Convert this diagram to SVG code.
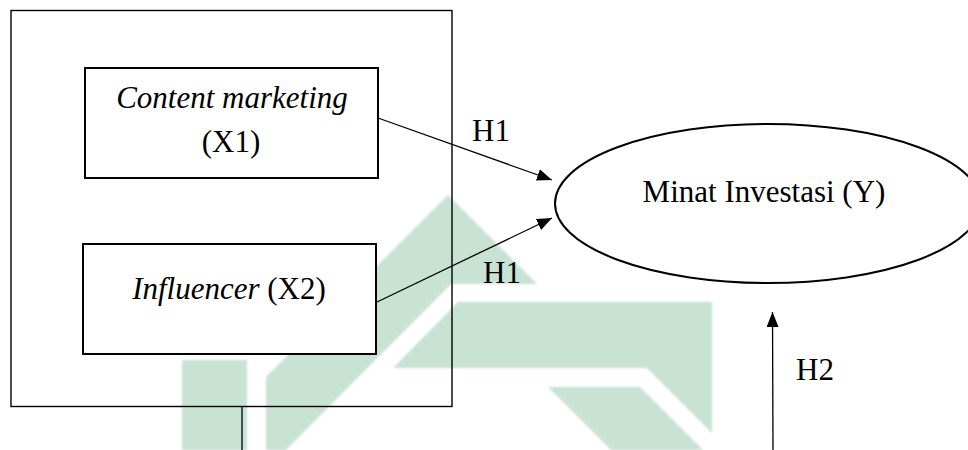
<svg xmlns="http://www.w3.org/2000/svg" width="968" height="450" viewBox="0 0 968 450">
  <style>
    .lbl { font-family: "Liberation Serif", "Times New Roman", serif; font-size: 31px; fill: #000; }
    .it { font-style: italic; }
    .frame { fill: none; stroke: #000; stroke-width: 1.4; }
    .box { fill: #fff; stroke: #000; stroke-width: 2; }
    .conn { fill: none; stroke: #000; stroke-width: 1.3; }
    .mark { fill: #c8e2d3; }
  </style>
  <defs>
    <marker id="arrow" markerUnits="userSpaceOnUse" markerWidth="16" markerHeight="13" refX="15" refY="6" orient="auto">
      <path d="M0,0 L15,6 L0,12 z" fill="#000"/>
    </marker>
    <filter id="soft" x="-5%" y="-5%" width="110%" height="110%">
      <feGaussianBlur stdDeviation="1.2"/>
    </filter>
  </defs>
  <rect width="968" height="450" fill="#fff"/>

  <!-- background emblem -->
  <g id="emblem" class="mark" filter="url(#soft)">
    <rect x="182" y="360" width="65" height="90"/>
    <polygon points="266,450 266,377 448,195 537,284 451,284 286,450"/>
    <polygon points="458,302 712,302 712,433 647,368 393,368"/>
    <polygon points="548,387 640,387 703,450 611,450"/>
  </g>

  <!-- grouping frame around the independent variables -->
  <g id="frame">
    <rect class="frame" x="11" y="10.5" width="441" height="396"/>
  </g>

  <g id="x1">
    <rect class="box" x="85" y="68" width="293" height="110"/>
    <text class="lbl it" x="232" y="108" text-anchor="middle">Content marketing</text>
    <text class="lbl" x="231" y="152" text-anchor="middle">(X1)</text>
  </g>

  <g id="x2">
    <rect class="box" x="83" y="244" width="293" height="110"/>
    <text class="lbl" x="229" y="299" text-anchor="middle"><tspan class="it">Influencer</tspan> (X2)</text>
  </g>

  <g id="y">
    <ellipse cx="768" cy="203.5" rx="213" ry="79.5" fill="#fff" stroke="#000" stroke-width="2"/>
    <text class="lbl" x="764" y="202" text-anchor="middle">Minat Investasi (Y)</text>
  </g>

  <g id="connectors">
    <line class="conn" x1="378" y1="118" x2="552" y2="180" marker-end="url(#arrow)"/>
    <line class="conn" x1="377" y1="302" x2="552" y2="218" marker-end="url(#arrow)"/>
    <line class="conn" x1="773" y1="450" x2="772.5" y2="312" marker-end="url(#arrow)"/>
    <line class="conn" x1="242" y1="406.5" x2="242" y2="450"/>
  </g>

  <g id="labels">
    <text class="lbl" x="472" y="141">H1</text>
    <text class="lbl" x="483" y="283">H1</text>
    <text class="lbl" x="796" y="380">H2</text>
  </g>
</svg>
